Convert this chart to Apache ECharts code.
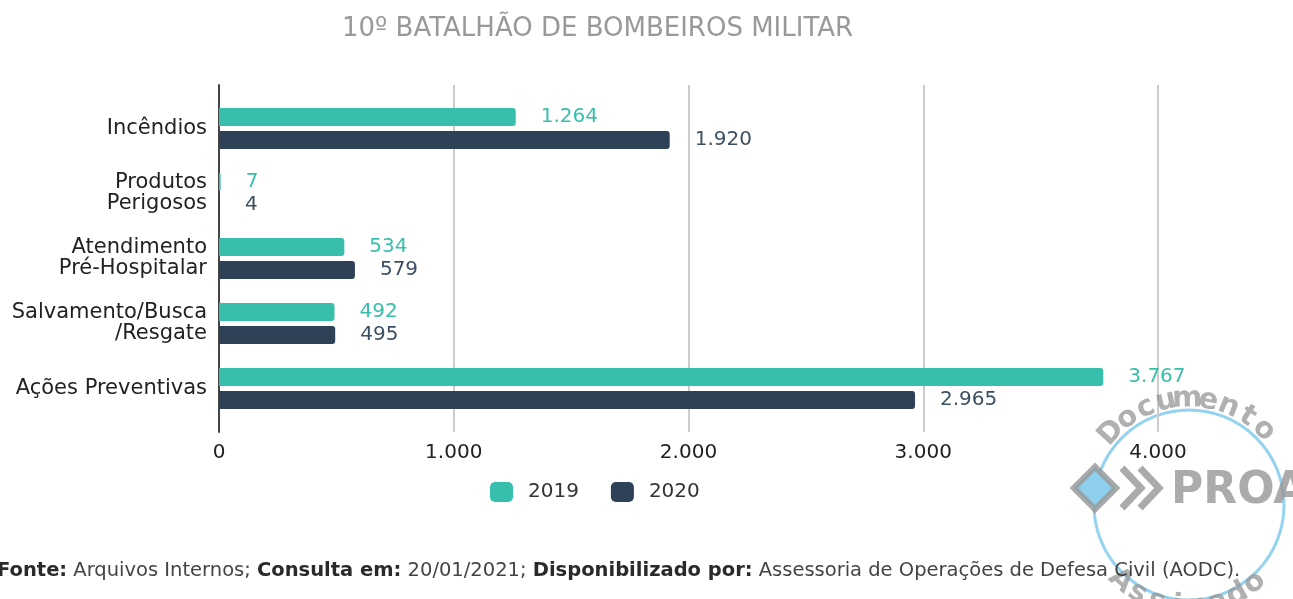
<!DOCTYPE html>
<html>
<head>
<meta charset="utf-8">
<script src="https://cdn.jsdelivr.net/npm/echarts@6/dist/echarts.min.js"></script>
<style>
  html, body { margin: 0; padding: 0; background: #fff; }
  #chart { width: 1293px; height: 599px; }
</style>
</head>
<body>
<div id="chart"></div>
<script>
  // dados do gráfico
  var categories = ['Incêndios', 'Produtos\nPerigosos', 'Atendimento\nPré-Hospitalar', 'Salvamento/Busca\n/Resgate', 'Ações Preventivas'];
  var values2019 = [1264, 7, 534, 492, 3767];
  var values2020 = [1920, 4, 579, 495, 2965];
  var seriesNames = ['2019', '2020'];
  var xTicks = [0, 1000, 2000, 3000, 4000];

  var colors = ['#37bfab', '#2e4156'];
  var font = 'DejaVu Sans';

  // formato pt-BR: 1.264
  function fmt(v) {
    return String(v).replace(/\B(?=(\d{3})+(?!\d))/g, '.');
  }

  // carimbo "Documento PROA Assinado" (letras ao longo do arco)
  function arcText(str, cx, cy, r, a0, a1, top) {
    var out = [];
    var n = str.length;
    for (var i = 0; i < n; i++) {
      var a = (a0 + (a1 - a0) * i / (n - 1)) * Math.PI / 180;
      var phi = top ? a + Math.PI / 2 : a - Math.PI / 2;
      out.push({
        type: 'text', z: 1,
        x: cx + r * Math.cos(a), y: cy + r * Math.sin(a),
        rotation: -phi,
        style: {
          text: str[i], align: 'center', verticalAlign: 'middle',
          fill: 'rgba(150,150,150,0.75)', fontSize: 29, fontWeight: 'bold', fontFamily: font
        }
      });
    }
    return out;
  }

  var grayStamp = 'rgba(150,150,150,0.8)';
  var stamp = [
    { type: 'circle', z: 0, shape: { cx: 1189, cy: 505, r: 95 },
      style: { fill: 'none', stroke: 'rgba(120,200,235,0.8)', lineWidth: 3 } },
    { type: 'rect', z: 1, x: 1095, y: 488, rotation: Math.PI / 4,
      shape: { x: -15, y: -15, width: 30, height: 30 },
      style: { fill: '#8fd0ee', stroke: grayStamp, lineWidth: 6 } },
    { type: 'polyline', z: 1, shape: { points: [[1122, 468], [1141, 488], [1122, 508]] },
      style: { stroke: grayStamp, lineWidth: 7, fill: 'none' } },
    { type: 'polyline', z: 1, shape: { points: [[1140, 468], [1159, 488], [1140, 508]] },
      style: { stroke: grayStamp, lineWidth: 7, fill: 'none' } },
    { type: 'text', z: 1, x: 1171, y: 492,
      style: { text: 'PROA', verticalAlign: 'middle', fill: grayStamp,
        fontSize: 44, fontWeight: 'bold', fontFamily: font } }
  ].concat(arcText('Documento', 1189, 505, 106, -137, -45, true))
   .concat(arcText('Assinado', 1189, 505, 102, 132, 50, false));

  var chart = echarts.init(document.getElementById('chart'));
  chart.setOption({
    animation: false,
    title: {
      text: '10º BATALHÃO DE BOMBEIROS MILITAR',
      left: 337,
      top: 11,
      textStyle: { color: '#999999', fontSize: 26, fontWeight: 'normal', fontFamily: font }
    },
    legend: {
      data: seriesNames,
      top: 477,
      left: 485,
      itemWidth: 23,
      itemHeight: 20,
      itemGap: 32,
      textStyle: { color: '#333', fontSize: 20, fontFamily: font, padding: [0, 0, 0, 10] },
      icon: 'roundRect'
    },
    grid: [
      // grid das barras
      { left: 219, right: 135, top: 96, bottom: 178 },
      // grid para linhas de grade e eixo (mais alto)
      { left: 219, right: 135, top: 85, bottom: 167 }
    ],
    xAxis: [
      {
        gridIndex: 0, type: 'value', min: xTicks[0], max: xTicks[xTicks.length - 1], interval: 1000,
        show: false
      },
      {
        gridIndex: 1, type: 'value', min: xTicks[0], max: xTicks[xTicks.length - 1], interval: 1000,
        axisLine: { show: false },
        axisTick: { show: false },
        splitLine: { show: true, lineStyle: { color: '#cccccc', width: 2 } },
        axisLabel: {
          margin: 11, color: '#222', fontSize: 20, fontFamily: font,
          formatter: function (v) { return fmt(v); }
        }
      }
    ],
    yAxis: [
      {
        gridIndex: 0, type: 'category', data: categories, inverse: true,
        axisLine: { show: false },
        axisTick: { show: false },
        splitLine: { show: false },
        axisLabel: {
          margin: 12, color: '#222', fontSize: 21, lineHeight: 21, fontFamily: font, align: 'right'
        }
      },
      {
        gridIndex: 1, type: 'value', min: 0, max: 1,
        axisLine: { show: true, lineStyle: { color: '#444', width: 2 } },
        axisTick: { show: false },
        axisLabel: { show: false },
        splitLine: { show: false }
      }
    ],
    series: [
      {
        name: seriesNames[0], type: 'bar', xAxisIndex: 0, yAxisIndex: 0,
        data: values2019, barWidth: 18, barGap: '28%',
        itemStyle: { color: colors[0], borderRadius: [0, 3, 3, 0] },
        label: {
          show: true, position: 'right', distance: 25, color: colors[0],
          fontSize: 20, fontFamily: font,
          formatter: function (p) { return fmt(p.value); }
        }
      },
      {
        name: seriesNames[1], type: 'bar', xAxisIndex: 0, yAxisIndex: 0,
        data: values2020, barWidth: 18, barGap: '28%',
        itemStyle: { color: colors[1], borderRadius: [0, 3, 3, 0] },
        label: {
          show: true, position: 'right', distance: 25, color: '#3d4f63',
          fontSize: 20, fontFamily: font,
          formatter: function (p) { return fmt(p.value); }
        }
      }
    ],
    graphic: stamp.concat([
      {
        type: 'text', left: -3, top: 561, z: 5,
        style: {
          text: '{b|Fonte:} Arquivos Internos; {b|Consulta em:} 20/01/2021; {b|Disponibilizado por:} Assessoria de Operações de Defesa Civil (AODC).',
          fill: '#444',
          fontSize: 19.5,
          fontFamily: font,
          rich: {
            b: { fontWeight: 'bold', fontSize: 19.5, fontFamily: font, fill: '#2a2a2a' }
          }
        }
      }
    ])
  });
</script>
</body>
</html>
